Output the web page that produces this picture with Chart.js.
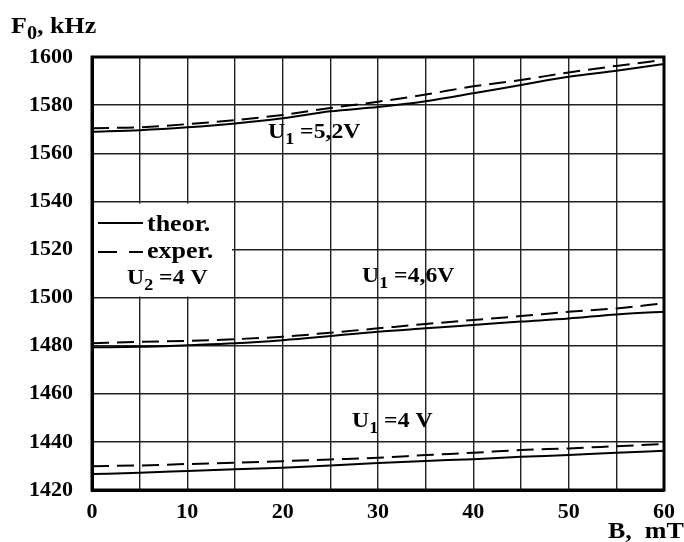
<!DOCTYPE html>
<html>
<head>
<meta charset="utf-8">
<script src="https://cdn.jsdelivr.net/npm/chart.js@4"></script>
<style>
  html, body { margin: 0; padding: 0; background: #fff; }
  #wrap { width: 684px; height: 542px; position: relative; }
</style>
</head>
<body>
<div id="wrap"><canvas id="chart"></canvas></div>
<script>
// magnetic field, mT
const bField = [0, 5, 10, 15, 20, 25, 30, 35, 40, 45, 50, 55, 60];

// U1 = 5,2 V
const theor52 = [1568.9, 1569.6, 1570.8, 1572.4, 1574.5, 1577.4, 1579.2, 1581.6, 1584.9, 1588.4, 1591.8, 1594.3, 1597.1];
const exper52 = [1570.4, 1570.8, 1572.1, 1573.8, 1575.9, 1578.8, 1581.4, 1584.4, 1587.8, 1590.4, 1593.6, 1596.3, 1598.8];

// U1 = 4,6 V
const theor46 = [1479.3, 1479.5, 1480.2, 1481.0, 1482.3, 1484.0, 1485.8, 1487.2, 1488.6, 1490.0, 1491.3, 1493.0, 1494.1];
const exper46 = [1481.0, 1481.6, 1482.0, 1482.7, 1483.7, 1485.4, 1487.2, 1489.0, 1490.7, 1492.3, 1494.1, 1495.5, 1497.6];

// U1 = 4 V
const theor40 = [1426.6, 1427.2, 1427.9, 1428.6, 1429.3, 1430.2, 1431.2, 1432.1, 1432.8, 1433.8, 1434.5, 1435.5, 1436.3];
const exper40 = [1429.9, 1430.2, 1430.8, 1431.3, 1432.0, 1432.7, 1433.4, 1434.5, 1435.5, 1436.6, 1437.3, 1438.2, 1439.1];

const SERIF = '"Liberation Serif", "Times New Roman", serif';

function pts(ys) {
    return bField.map((b, i) => ({ x: b, y: ys[i] }));
}

function solid(ys) {
    return { data: pts(ys), borderColor: '#000', borderWidth: 2, pointRadius: 0, cubicInterpolationMode: 'monotone', fill: false };
}
function dashed(ys) {
    return { data: pts(ys), borderColor: '#000', borderWidth: 2, borderDash: [17, 8], pointRadius: 0, cubicInterpolationMode: 'monotone', fill: false };
}

// text with subscript parts, stretched a bit horizontally like the original
function drawParts(ctx, x, y, parts, size) {
    ctx.save();
    ctx.translate(x, y);
    ctx.scale(1.13, 1);
    ctx.textBaseline = 'alphabetic';
    ctx.textAlign = 'left';
    let cx = 0;
    parts.forEach(p => {
        const sub = p[1];
        const fs = sub ? Math.round(size * 0.78) : size;
        ctx.font = 'bold ' + fs + 'px ' + SERIF;
        ctx.fillText(p[0], cx, sub ? 6 : 0);
        cx += ctx.measureText(p[0]).width;
    });
    ctx.restore();
}

const annotations = {
    id: 'annotations',
    beforeDatasetsDraw(chart) {
        const ctx = chart.ctx;
        const a = chart.chartArea;
        // white box behind the legend
        ctx.save();
        ctx.fillStyle = '#fff';
        ctx.fillRect(a.left + 2, 203.5, 232 - a.left - 2, 93);
        ctx.restore();
    },
    afterDatasetsDraw(chart) {
        const ctx = chart.ctx;
        const a = chart.chartArea;
        ctx.save();
        // frame
        ctx.strokeStyle = '#000';
        ctx.lineWidth = 3;
        ctx.strokeRect(a.left, a.top, a.right - a.left, a.bottom - a.top);

        // legend
        ctx.lineWidth = 2.2;
        ctx.beginPath();
        ctx.moveTo(98, 223); ctx.lineTo(143, 223);
        ctx.stroke();
        ctx.beginPath();
        ctx.moveTo(98, 252); ctx.lineTo(117, 252);
        ctx.moveTo(129, 252); ctx.lineTo(143, 252);
        ctx.stroke();

        ctx.fillStyle = '#000';
        drawParts(ctx, 147, 231, [['theor.', false]], 23);
        drawParts(ctx, 147, 258, [['exper.', false]], 23);
        drawParts(ctx, 127, 284, [['U', false], ['2', true], [' =4 V', false]], 21);

        drawParts(ctx, 268, 138, [['U', false], ['1', true], [' =5,2V', false]], 21);
        drawParts(ctx, 362, 282, [['U', false], ['1', true], [' =4,6V', false]], 21);
        drawParts(ctx, 352, 427, [['U', false], ['1', true], [' =4 V', false]], 21);

        // axis titles
        drawParts(ctx, 11, 33, [['F', false], ['0', true], [', kHz', false]], 23);
        drawParts(ctx, 608, 538, [['B,  mT', false]], 23);
        ctx.restore();
    }
};

new Chart(document.getElementById('chart'), {
    type: 'line',
    data: {
        datasets: [
            solid(theor52), dashed(exper52),
            solid(theor46), dashed(exper46),
            solid(theor40), dashed(exper40)
        ]
    },
    options: {
        responsive: true,
        maintainAspectRatio: false,
        animation: false,
        layout: {
            padding: { top: 57, right: 15, left: 0, bottom: 0 }
        },
        plugins: {
            legend: { display: false },
            tooltip: { enabled: false }
        },
        scales: {
            x: {
                type: 'linear',
                min: 0,
                max: 60,
                afterFit: s => { s.height = 52; },
                grid: { color: '#222', lineWidth: 1.4, drawTicks: false },
                border: { color: '#000', width: 3 },
                ticks: {
                    stepSize: 5,
                    padding: 9,
                    color: '#000',
                    font: { family: SERIF, size: 22, weight: 'bold' },
                    callback: v => (v % 10 === 0 ? String(v) : '')
                }
            },
            y: {
                min: 1420,
                max: 1600,
                afterFit: s => { s.width = 92; },
                grid: { color: '#222', lineWidth: 1.4, drawTicks: false },
                border: { color: '#000', width: 3 },
                ticks: {
                    stepSize: 20,
                    padding: 19,
                    color: '#000',
                    font: { family: SERIF, size: 22, weight: 'bold' },
                    callback: v => String(v)
                }
            }
        }
    },
    plugins: [annotations]
});
</script>
</body>
</html>
